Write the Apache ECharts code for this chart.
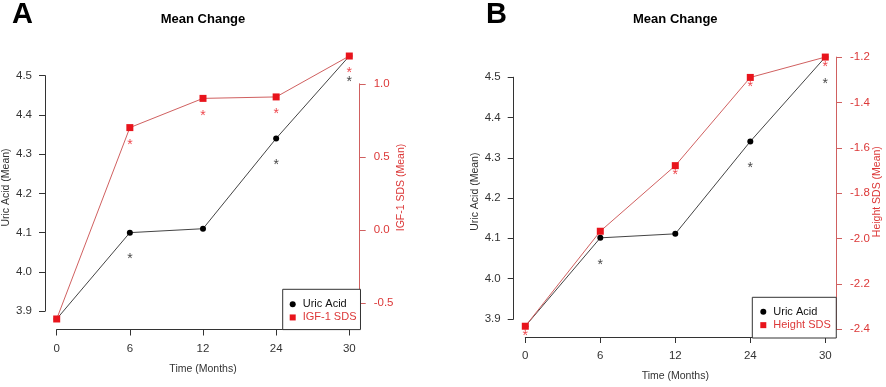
<!DOCTYPE html>
<html>
<head>
<meta charset="utf-8">
<script src="https://cdn.jsdelivr.net/npm/echarts@6/dist/echarts.min.js"></script>
<style>
  html, body { margin: 0; padding: 0; background: #fff; }
  #chart { width: 886px; height: 387px; }
</style>
</head>
<body>
<div id="chart"></div>
<script>
// 数据
const months = ['0', '6', '12', '24', '30']
const uricAcid = [3.88, 4.10, 4.11, 4.34, 4.55]
const igf1Sds = [-0.61, 0.70, 0.90, 0.91, 1.19]
const heightSds = [-2.39, -1.97, -1.68, -1.29, -1.20]

// 显著性星号位置 (null = 无)
const uricStarA = [null, 4.04, null, 4.28, 4.49]
const igfStar = [null, 0.60, 0.80, 0.815, 1.095]
const uricStarB = [null, 4.04, null, 4.28, 4.49]
const heightStar = [-2.42, -2.00, -1.71, -1.32, -1.23]

// 刻度范围 [min, max, step]
const uricTicks = [3.9, 4.5, 0.1]
const igfTicks = [-0.5, 1.0, 0.5]
const heightTicks = [-2.4, -1.2, 0.2]

const FONT = '"Liberation Sans", Arial, sans-serif'
const RED = '#e8141c'
const RED_LINE = '#d06060'
const RED_TEXT = '#dc3838'

// 面板配置
const panels = [
  {
    letter: 'A', letterX: 12, titleX: 203,
    axisL: 45, plotL: 56.7, plotR: 349.3, axisR: 360.7, top: 45.5, bottom: 329.5,
    rightName: 'IGF-1 SDS (Mean)', rightLegend: 'IGF-1 SDS',
    left: uricAcid, leftStars: uricStarA, leftTicks: uricTicks,
    right: igf1Sds, rightStars: igfStar, rightTicks: igfTicks,
    legend: { left: 282.7, top: 289.3, padding: [8.2, 4, 5.5, 7] }
  },
  {
    letter: 'B', letterX: 486, titleX: 675.3,
    axisL: 513.7, plotL: 525.3, plotR: 825.3, axisR: 837, top: 46.3, bottom: 337.7,
    rightName: 'Height SDS (Mean)', rightLegend: 'Height SDS',
    left: uricAcid, leftStars: uricStarB, leftTicks: uricTicks,
    right: heightSds, rightStars: heightStar, rightTicks: heightTicks,
    legend: { left: 752.3, top: 297.3, padding: [7.9, 5.5, 6.2, 8] }
  }
]

// R 风格的范围: 数据范围两端各扩展 4%
function rLim(vals) {
  const lo = Math.min(...vals)
  const hi = Math.max(...vals)
  const e = (hi - lo) * 0.04
  return [lo - e, hi + e]
}

const option = {
  animation: false,
  backgroundColor: '#fff',
  title: [],
  legend: [],
  grid: [],
  xAxis: [],
  yAxis: [],
  series: []
}

panels.forEach((p) => {
  const g0 = option.grid.length
  const y0 = option.yAxis.length
  const height = p.bottom - p.top
  const limL = rLim(p.left)
  const limR = rLim(p.right)
  const pixOf = (lim, v) => p.top + (lim[1] - v) / (lim[1] - lim[0]) * height

  // 标题
  option.title.push({
    text: p.letter, left: p.letterX, top: 0, padding: 0,
    textStyle: { fontFamily: FONT, fontSize: 29, fontWeight: 'bold', color: '#000' }
  })
  option.title.push({
    text: 'Mean Change', left: p.titleX, top: 12.5, padding: 0, textAlign: 'center',
    textStyle: { fontFamily: FONT, fontSize: 13, fontWeight: 'bold', color: '#000' }
  })

  // 数据区域
  option.grid.push({ left: p.plotL, top: p.top, width: p.plotR - p.plotL, height: height })
  // 左侧刻度轴
  const lt = pixOf(limL, p.leftTicks[1])
  const lb = pixOf(limL, p.leftTicks[0])
  option.grid.push({ left: p.axisL, top: lt, width: 1, height: lb - lt })
  // 右侧刻度轴
  const rt = pixOf(limR, p.rightTicks[1])
  const rb = pixOf(limR, p.rightTicks[0])
  option.grid.push({ left: p.axisR - 1, top: rt, width: 1, height: rb - rt })

  option.xAxis.push({
    gridIndex: g0,
    type: 'category',
    data: months,
    boundaryGap: false,
    axisLine: { onZero: false, lineStyle: { color: '#333', width: 1 } },
    axisTick: { length: 6, lineStyle: { color: '#333' } },
    axisLabel: { interval: 0, margin: 13, fontFamily: FONT, fontSize: 11.5, color: '#333' },
    splitLine: { show: false },
    name: 'Time (Months)',
    nameLocation: 'middle',
    nameGap: 34,
    nameTextStyle: { fontFamily: FONT, fontSize: 10.5, color: '#333' }
  })
  option.xAxis.push({ gridIndex: g0 + 1, type: 'value', show: false })
  option.xAxis.push({ gridIndex: g0 + 2, type: 'value', show: false })

  const hiddenParts = {
    axisLine: { show: false }, axisTick: { show: false },
    axisLabel: { show: false }, splitLine: { show: false }
  }
  // 数据轴 (只显示轴名)
  option.yAxis.push(Object.assign({
    gridIndex: g0, type: 'value', position: 'left', min: limL[0], max: limL[1],
    offset: p.plotL - p.axisL,
    name: 'Uric Acid (Mean)', nameLocation: 'middle', nameGap: 33, nameRotate: 90,
    nameTextStyle: { fontFamily: FONT, fontSize: 10.5, color: '#333' }
  }, hiddenParts))
  option.yAxis.push(Object.assign({
    gridIndex: g0, type: 'value', position: 'right', min: limR[0], max: limR[1],
    offset: p.axisR - p.plotR,
    name: p.rightName, nameLocation: 'middle', nameGap: 35, nameRotate: 90,
    nameTextStyle: { fontFamily: FONT, fontSize: 10.5, color: RED_TEXT }
  }, hiddenParts))
  // 可见刻度轴
  option.yAxis.push({
    gridIndex: g0 + 1, type: 'value', position: 'left',
    min: p.leftTicks[0], max: p.leftTicks[1], interval: p.leftTicks[2],
    axisLine: { show: true, lineStyle: { color: '#333', width: 1 } },
    axisTick: { show: true, length: 6, lineStyle: { color: '#333' } },
    axisLabel: { margin: 13, fontFamily: FONT, fontSize: 11.5, color: '#333', formatter: (v) => v.toFixed(1) },
    splitLine: { show: false }
  })
  option.yAxis.push({
    gridIndex: g0 + 2, type: 'value', position: 'right',
    min: p.rightTicks[0], max: p.rightTicks[1], interval: p.rightTicks[2],
    axisLine: { show: true, lineStyle: { color: RED_LINE, width: 1 } },
    axisTick: { show: true, length: 6, lineStyle: { color: RED_LINE } },
    axisLabel: { margin: 13, fontFamily: FONT, fontSize: 11.5, color: RED_TEXT, formatter: (v) => v.toFixed(1) },
    splitLine: { show: false }
  })

  const starData = (arr) => arr.map((v, i) => (v == null ? null : [i, v])).filter(Boolean)
  const starLabel = (color) => ({
    show: true, position: 'inside', formatter: '*', offset: [0, 3],
    fontFamily: FONT, fontSize: 14, color: color
  })

  option.series.push({
    name: 'Uric Acid', type: 'line', xAxisIndex: g0, yAxisIndex: y0,
    data: p.left.map((v, i) => [i, v]),
    symbol: 'circle', symbolSize: 6, z: 3,
    itemStyle: { color: '#000' },
    lineStyle: { color: '#444', width: 1 }
  })
  option.series.push({
    name: p.rightLegend, type: 'line', xAxisIndex: g0, yAxisIndex: y0 + 1,
    data: p.right.map((v, i) => [i, v]),
    symbol: 'rect', symbolSize: 7, z: 4,
    itemStyle: { color: RED },
    lineStyle: { color: RED_LINE, width: 1 }
  })
  option.series.push({
    type: 'scatter', xAxisIndex: g0, yAxisIndex: y0, z: 2,
    data: starData(p.leftStars), symbolSize: 1,
    itemStyle: { color: 'transparent' }, label: starLabel('#111')
  })
  option.series.push({
    type: 'scatter', xAxisIndex: g0, yAxisIndex: y0 + 1, z: 2,
    data: starData(p.rightStars), symbolSize: 1,
    itemStyle: { color: 'transparent' }, label: starLabel(RED)
  })

  // 图例
  option.legend.push({
    orient: 'vertical',
    left: p.legend.left, top: p.legend.top, padding: p.legend.padding,
    itemGap: 0, itemWidth: 6, itemHeight: 6,
    borderColor: '#333', borderWidth: 1, borderRadius: 0,
    backgroundColor: '#fff',
    selectedMode: false,
    textStyle: { fontFamily: FONT, fontSize: 11, lineHeight: 13.3, padding: [0, 0, 0, 2] },
    data: [
      { name: 'Uric Acid', icon: 'circle', textStyle: { color: '#111' } },
      { name: p.rightLegend, icon: 'rect', textStyle: { color: RED_TEXT } }
    ]
  })
})

const chart = echarts.init(document.getElementById('chart'))
chart.setOption(option)
</script>
</body>
</html>
